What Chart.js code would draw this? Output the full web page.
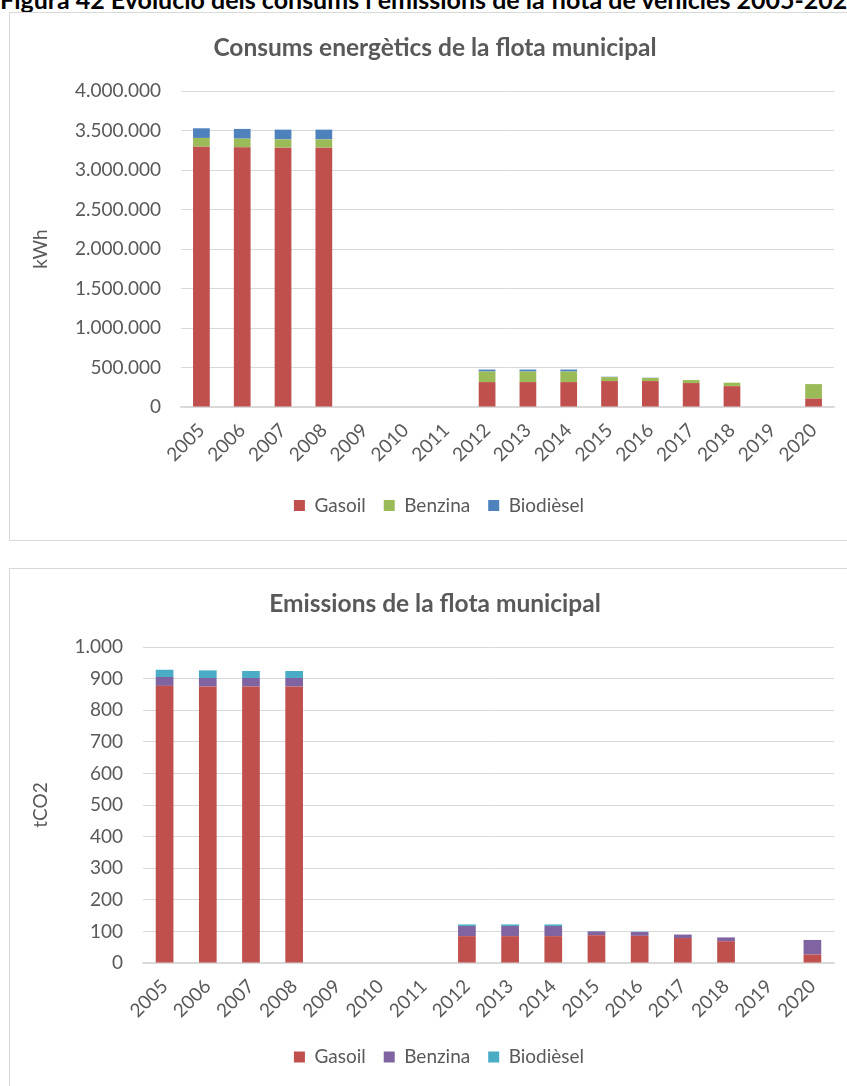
<!DOCTYPE html>
<html><head><meta charset="utf-8">
<script src="https://cdn.jsdelivr.net/npm/chart.js@4.4.0/dist/chart.umd.min.js"></script>
<style>
html,body{margin:0;padding:0;background:#fff;width:847px;height:1086px;overflow:hidden;position:relative;font-family:Lato,sans-serif;}
#cap{position:absolute;left:0;top:-16px;white-space:nowrap;font:bold 25px Lato,sans-serif;color:#000;}
.box{position:absolute;border:1px solid #d9d9d9;background:#fff;}
.box canvas{position:absolute;left:0;top:0;}
</style></head><body>
<div id="cap">Figura 42 Evolució dels consums i emissions de la flota de vehicles 2005-2020</div>
<div class="box" style="left:9px;top:12px;width:850px;height:527px;"><canvas id="c1" width="838" height="527"></canvas></div>
<div class="box" style="left:9px;top:568px;width:850px;height:540px;"><canvas id="c2" width="838" height="527"></canvas></div>
<script>
const years = ['2005','2006','2007','2008','2009','2010','2011','2012','2013','2014','2015','2016','2017','2018','2019','2020'];
const seriesNames = ['Gasoil','Benzina','Biodièsel'];
// Consums (kWh)
const consGasoil    = [3295000,3287000,3283000,3283000,null,null,null,315000,315000,315000,328000,328000,303000,264000,null,106000];
const consBenzina   = [111000,110000,105000,105000,null,null,null,134000,134000,134000,51000,39000,38000,44000,null,184000];
const consBiodiesel = [122000,123000,123000,123000,null,null,null,25000,25000,25000,4000,3000,0,0,null,0];
// Emissions (tCO2)
const emiGasoil    = [877,875,875,875,null,null,null,85,85,85,88,86,79,69,null,27];
const emiBenzina   = [28,27,27,27,null,null,null,32,32,32,12,12,11,12,null,46];
const emiBiodiesel = [23,24,22,22,null,null,null,5,5,5,1,1,0,0,null,0];
const consTicks = {min:0,max:4000000,step:500000};
const emiTicks = {min:0,max:1000,step:100};

const TXT = '#595959';
const GRID = '#d9d9d9';
const fmt = v => Math.round(v).toString().replace(/\B(?=(\d{3})+(?!\d))/g,'.');

const boxShift = {
  id:'boxShift',
  afterLayout(chart, args, opts){
    if (chart.legend && opts.legendDx) { chart.legend.left += opts.legendDx; chart.legend.right += opts.legendDx; }
    if (chart.titleBlock && opts.titleDx) { chart.titleBlock.left += opts.titleDx; chart.titleBlock.right += opts.titleDx; }
  }
};

function makeChart(id, title, yTitle, data, colors, ticks, yWidth, xHeight, padBottom){
  new Chart(document.getElementById(id), {
    type:'bar',
    data:{labels:years, datasets:data.map((d,i)=>({label:seriesNames[i], data:d, backgroundColor:colors[i], barPercentage:0.41, categoryPercentage:1}))},
    plugins:[boxShift],
    options:{
      responsive:false, animation:false,
      layout:{padding:{left:0,right:14,top:0,bottom:padBottom}},
      plugins:{
        boxShift:{legendDx:17, titleDx:13},
        title:{display:true,text:title,color:TXT,font:{family:'Lato',size:24.5,weight:'bold'},padding:{top:20,bottom:28.6}},
        legend:{position:'bottom',labels:{color:TXT,font:{family:'Lato',size:19},boxWidth:11,boxHeight:11,padding:18}},
        tooltip:{enabled:false}
      },
      scales:{
        x:{stacked:true,grid:{display:false},border:{color:GRID,width:1.5},
           ticks:{color:TXT,font:{family:'Lato',size:19},maxRotation:45,minRotation:45,padding:4},
           afterFit:s=>{s.height=xHeight;}},
        y:{stacked:true,min:ticks.min,max:ticks.max,
           grid:{color:GRID,lineWidth:1,drawTicks:false},border:{display:false},
           ticks:{stepSize:ticks.step,color:TXT,font:{family:'Lato',size:19},padding:20,callback:v=>fmt(v)},
           title:{display:true,text:yTitle,color:TXT,font:{family:'Lato',size:19},padding:{top:19,bottom:0}},
           afterFit:s=>{s.width=yWidth;}}
      }
    }
  });
}
makeChart('c1','Consums energètics de la flota municipal','kWh',[consGasoil,consBenzina,consBiodiesel],['#C0504D','#9BBB59','#4F81BD'],consTicks,171,71,15);
makeChart('c2','Emissions de la flota municipal','tCO2',[emiGasoil,emiBenzina,emiBiodiesel],['#C0504D','#8064A2','#4BACC6'],emiTicks,133,66.5,19.5);
</script>
</body></html>
